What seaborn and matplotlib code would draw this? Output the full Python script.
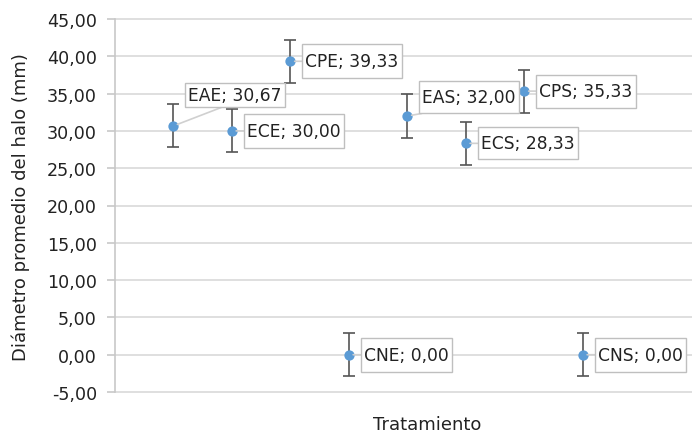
import matplotlib
matplotlib.use("Agg")
import matplotlib.pyplot as plt
import seaborn as sns
import numpy as np
import pandas as pd
from matplotlib.ticker import FuncFormatter
from matplotlib.path import Path

# Data
labels = ["EAE", "ECE", "CPE", "CNE", "EAS", "ECS", "CPS", "CNS"]
means = [30.67, 30.00, 39.33, 0.00, 32.00, 28.33, 35.33, 0.00]
errors = [2.89, 2.89, 2.89, 2.89, 2.89, 2.89, 2.89, 2.89]
y_ticks = [-5, 0, 5, 10, 15, 20, 25, 30, 35, 40, 45]

df = pd.DataFrame({"label": labels, "x": np.arange(1, len(labels) + 1),
                   "mean": means, "err": errors})

sns.set_theme(style="white")
plt.rcParams["font.family"] = ["DejaVu Sans"]

W, H = 692, 435
fig = plt.figure(figsize=(W / 100, H / 100), dpi=100)
ax = fig.add_axes([115 / W, 1 - 394 / H, 1 - 115 / W, (394 - 19) / H])

ax.errorbar(df["x"], df["mean"], yerr=df["err"], fmt="none",
            ecolor="#555555", elinewidth=1.2, capsize=4.3, capthick=1.2, zorder=3)
sns.scatterplot(data=df, x="x", y="mean", ax=ax, color="#5B9BD5", s=55,
                edgecolor="#5B9BD5", linewidth=0, zorder=4, legend=False)

ax.set_xlim(0, (692 - 115) / 58.5)
ax.set_ylim(-5.13, 45.13)
ax.set_yticks(y_ticks)
ax.yaxis.set_major_formatter(FuncFormatter(lambda v, p: f"{v:.2f}".replace(".", ",")))
ax.set_xticks([])
ax.grid(axis="y", color="#d9d9d9", linewidth=1.2)
ax.set_axisbelow(True)
for s in ["top", "right", "bottom"]:
    ax.spines[s].set_visible(False)
ax.spines["left"].set_color("#c8c8c8")
ax.spines["left"].set_linewidth(1.2)
ax.spines["left"].set_bounds(-5, 45)
ax.tick_params(axis="y", which="major", length=6, width=1.2, color="#c8c8c8",
               pad=7, labelsize=12.6, labelcolor="#222222", left=True)
ax.set_xlabel("")
ax.set_ylabel("")


def make_box(px, py):
    def box(x0, y0, width, height, mutation_size):
        l, r = x0 - px, x0 + width + px
        b, t = y0 - py, y0 + height + py
        return Path([(l, b), (r, b), (r, t), (l, t), (l, b)], closed=True)
    return box


# label offsets in pixels (dx, dy, leader anchor, vertical pad px)
offsets = {
    "EAE": (15, 31, (0.45, 0.0), 3),
    "ECE": (15, 0, (0.0, 0.5), 8),
    "CPE": (15, 0, (0.0, 0.5), 8),
    "CNE": (15, 0, (0.0, 0.5), 8),
    "EAS": (15, 19, (0.45, 0.0), 7),
    "ECS": (15, 0, (0.0, 0.5), 7),
    "CPS": (15, 0, (0.0, 0.5), 7.5),
    "CNS": (15, 0, (0.0, 0.5), 8),
}
for lab, xv, yv in zip(df["label"], df["x"], df["mean"]):
    dx, dy, rp, vp = offsets[lab]
    txt = f"{lab}; " + f"{yv:.2f}".replace(".", ",")
    ax.annotate(txt, xy=(xv, yv), xytext=(dx, dy), textcoords="offset pixels",
                ha="left", va="center", fontsize=12.3, color="#222222",
                bbox=dict(boxstyle=make_box(3, vp), fc="white", ec="#bfbfbf", lw=1),
                arrowprops=dict(arrowstyle="-", color="#d0d0d0", lw=1.2,
                                relpos=rp, shrinkA=0, shrinkB=3),
                zorder=5, annotation_clip=False)

fig.text(427 / W, 1 - 425 / H, "Tratamiento", ha="center", va="center",
         fontsize=13, color="#222222")
fig.text(21 / W, 1 - 207 / H, "Diámetro promedio del halo (mm)", ha="center",
         va="center", rotation=90, fontsize=13, color="#222222")

fig.savefig("out.png", dpi=100)
